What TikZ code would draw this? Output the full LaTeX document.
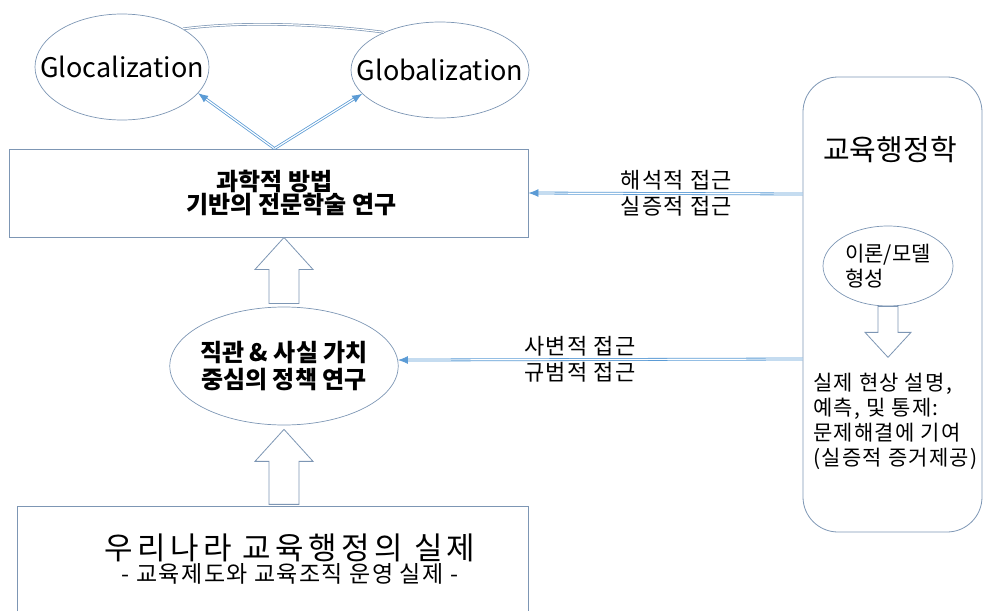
\documentclass[tikz,border=0pt]{standalone}
\usepackage{fontspec}
\setmainfont{Noto Sans CJK KR}
\newfontfamily\widefont{Noto Sans CJK KR}[LetterSpace=14]
\newfontfamily\spacedfont{Noto Sans CJK KR}[LetterSpace=6]
\usepackage{tikz}
\usetikzlibrary{shapes.geometric, arrows.meta, calc, positioning}
\definecolor{arrowblue}{RGB}{91,155,213}
\definecolor{edgegray}{RGB}{125,150,180}
\newcommand{\fsz}[2]{\fontsize{#1}{#2}\selectfont}
\tikzstyle{box} = [rectangle, draw=edgegray, line width=0.9pt, inner sep=0pt, align=center]
\tikzstyle{oval} = [ellipse, draw=edgegray, line width=0.7pt, inner sep=0pt, align=center]
\tikzstyle{dblarrow} = [draw=arrowblue, line width=0.8pt, double=white, double distance=1.2pt, -{Latex[length=10pt,width=8pt]}]
\tikzstyle{dblback} = [draw=arrowblue, line width=0.8pt, double=white, double distance=1.2pt, {Latex[length=10pt,width=8pt]}-]
\tikzstyle{hollow} = [draw=edgegray, line width=0.8pt, fill=white, line join=miter]
\tikzstyle{tag} = [font=\spacedfont\fsz{22}{24}, inner sep=3pt]

\begin{document}
\begin{tikzpicture}[x=1pt, y=-1pt]
	\useasboundingbox (0,0) rectangle (983,611);
	\node (Glocal) [oval, minimum width=174pt, minimum height=106pt, font=\fsz{27}{30}] at (122,67) {\makebox[0pt]{Glocalization}};
	\node (Global) [oval, minimum width=178pt, minimum height=96pt, font=\fsz{27}{30}] at (440,70) {\makebox[0pt]{Globalization}};
	\node (Science) [box, minimum width=519pt, minimum height=88pt, font=\bfseries\fsz{24}{22}] at (268.5,193) {\hspace*{12pt}과학적 방법\\ \hspace*{46pt}기반의 전문학술 연구};
	\node (Policy) [oval, inner xsep=-3pt, minimum width=228pt, minimum height=118pt, font=\bfseries\fsz{24}{27}] at (284,366) {직관 \& 사실 가치\\ 중심의 정책 연구};
	\node (Practice) [rectangle, minimum width=510pt, minimum height=104pt, inner sep=0pt, align=center] at (273,559) {\hspace*{34pt}{\widefont\fsz{31}{34}우리나라 교육행정의 실제}\\ \hspace*{34pt}{\spacedfont\fsz{23}{30}- 교육제도와 교육조직 운영 실제 -}};
	\node (Admin) [rectangle, rounded corners=35pt, draw=edgegray, line width=0.8pt, minimum width=179pt, minimum height=455pt] at (892.5,304.5) {};
	\node (AdminTitle) [font=\fsz{29}{30}] at (890,150) {교육행정학};
	\node (Theory) [oval, minimum width=130pt, minimum height=80pt, align=left, font=\fsz{21}{25}] at (888,266) {이론/모델\\ 형성};
	\node (Effects) [anchor=north west, align=left, inner sep=0pt, font=\spacedfont\fsz{21}{25}] at (813,373) {실제 현상 설명,\\ 예측, 및 통제:\\ 문제해결에 기여\\ (실증적 증거제공)};
	\coordinate (AdminUp) at ($(Admin.west |- Science.east)+(0,1)$);
	\coordinate (AdminDown) at ($(Admin.west |- Policy.east)+(0,-7)$);
	% open box at the bottom
	\draw [draw=edgegray, line width=0.9pt] (Practice.south west) -- (Practice.north west) -- (Practice.north east) -- (Practice.south east);
	% links
	\draw [draw=edgegray, line width=0.7pt, double=white, double distance=1.2pt] (Glocal.32) .. controls +(60,-8) and +(-60,-8) .. (Global.146);
	\draw [dblarrow] ($(Science.north)+(6,0)$) -- (Glocal.-19);
	\draw [dblarrow] ($(Science.north)+(6,0)$) -- (Global.197);
	\draw [dblback] (Science.east) -- (AdminUp);
	\draw [dblback] (Policy.3) -- (AdminDown);
	\path (Science.east) -- node[pos=0.54, above, tag]{해석적 접근} node[pos=0.54, below, tag]{실증적 접근} (AdminUp);
	\path (Policy.3) -- node[pos=0.45, above, tag]{사변적 접근} node[pos=0.45, below, tag]{규범적 접근} (AdminDown);
	% hollow arrows
	\draw [hollow] (Policy.north |- Science.south) -- ++(29,32) -- ++(-14,0) -- ++(0,34) -- ++(-30,0) -- ++(0,-34) -- ++(-14,0) -- cycle;
	\draw [hollow] ($(Policy.south)+(0,4)$) -- ++(29,32) -- ++(-14,0) -- ++(0,43) -- ++(-30,0) -- ++(0,-43) -- ++(-14,0) -- cycle;
	\draw [hollow] ($(Theory.south)+(-10,0)$) -- ++(20,0) -- ++(0,26) -- ++(13,0) -- ++(-23,25) -- ++(-23,-25) -- ++(13,0) -- cycle;
\end{tikzpicture}
\end{document}
